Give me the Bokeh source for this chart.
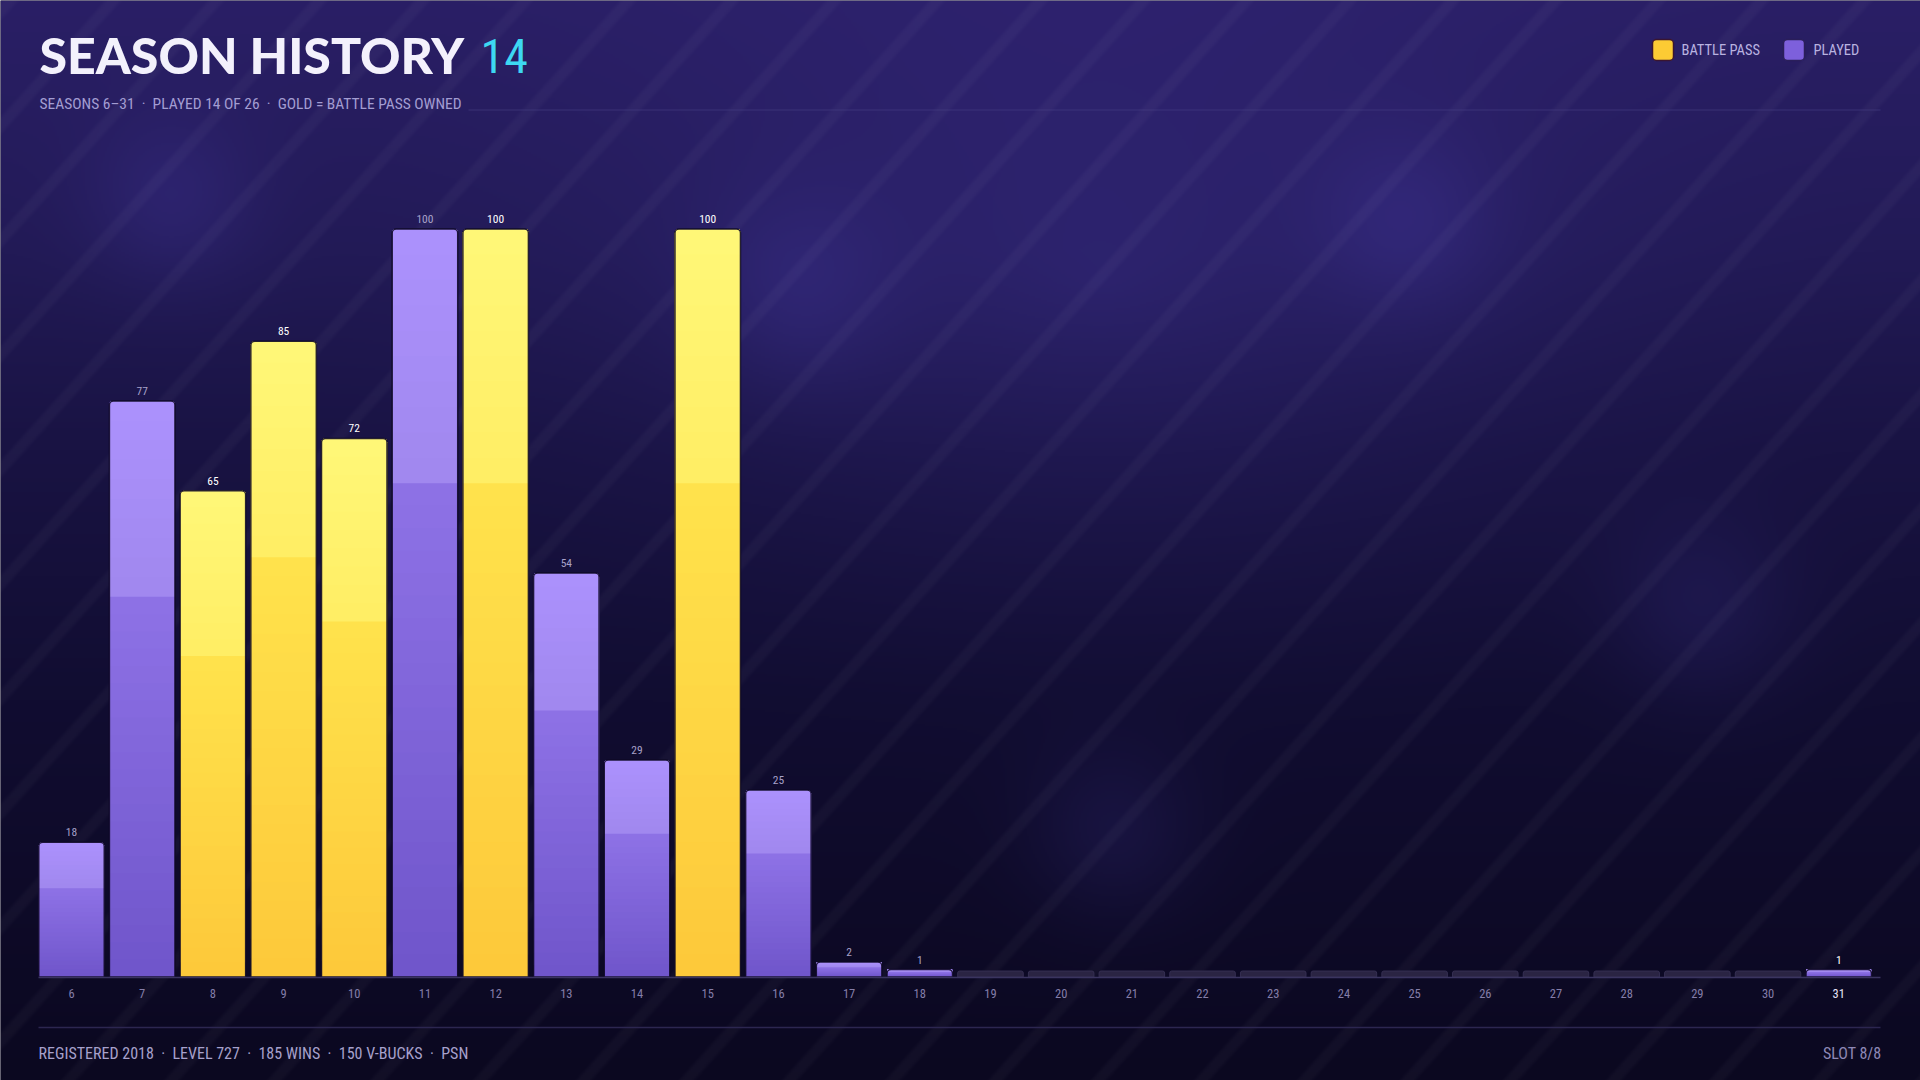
import numpy as np
from bokeh.plotting import figure
from bokeh.models import Range1d, ColumnDataSource
from bokeh.core.properties import value
from bokeh.embed import file_html
from bokeh.resources import INLINE

# ---------------- data ----------------
seasons = list(range(6, 32))
season_labels = [str(s) for s in seasons]
levels = [18, 77, 65, 85, 72, 100, 100, 54, 29, 100, 25, 2, 1,
          0, 0, 0, 0, 0, 0, 0, 0, 0, 0, 0, 0, 1]
battle_pass = [0, 0, 1, 1, 1, 0, 1, 0, 0, 1, 0, 0, 0,
               0, 0, 0, 0, 0, 0, 0, 0, 0, 0, 0, 0, 0]
played = [1, 1, 1, 1, 1, 1, 1, 1, 1, 1, 1, 1, 1,
          0, 0, 0, 0, 0, 0, 0, 0, 0, 0, 0, 0, 1]
current_season = 31

SP = "\u00a0"
title_text = "SEASON HISTORY"
title_count = "14"
subtitle_text = f"SEASONS 6–31 {SP}·{SP} PLAYED 14 OF 26 {SP}·{SP} GOLD = BATTLE PASS OWNED"
footer_text = f"REGISTERED 2018 {SP}·{SP} LEVEL 727 {SP}·{SP} 185 WINS {SP}·{SP} 150 V-BUCKS {SP}·{SP} PSN"
slot_text = "SLOT 8/8"
legend_labels = ["BATTLE PASS", "PLAYED"]

# ---------------- layout / style ----------------
W, H = 1920, 1080
X0, PITCH = 71.0, 70.69          # canvas x of first bar centre, bar pitch (px)
BASE, PXU = 976.5, 7.48          # canvas y of baseline, px per level unit
BAR_W = 0.927
STUB = 0.8

NARROW = value("Roboto Condensed, Liberation Sans Narrow, Roboto, sans-serif")
HEAVY = value("Lato Black, Lato, sans-serif")

GOLD = dict(bottom=(0xfd, 0xc8, 0x3a), lo=(0xff, 0xe3, 0x4c), hi=(0xff, 0xee, 0x64), top=(0xff, 0xf7, 0x78))
PURP = dict(bottom=(0x6f, 0x55, 0xca), lo=(0x8e, 0x72, 0xe6), hi=(0xa0, 0x88, 0xee), top=(0xac, 0x91, 0xfd))

xr = Range1d(6 - X0 / PITCH, 6 + (W - X0) / PITCH)
yr = Range1d(-(H - BASE) / PXU, BASE / PXU)

p = figure(width=W, height=H, output_backend="svg", toolbar_location=None,
           x_range=xr, y_range=yr, x_axis_location=None, y_axis_location=None,
           min_border=0, background_fill_color="#0c0920", border_fill_color="#0c0920",
           outline_line_color=None)
p.title.visible = False
p.grid.visible = False
p.extra_x_ranges = {"px": Range1d(0, W)}
p.extra_y_ranges = {"py": Range1d(H, 0)}

# ---------------- background ----------------
hh, ww = H // 2, W // 2
gy, gx = np.mgrid[0:hh, 0:ww].astype(float)
RX = gx * 2 + 1
RY = gy * 2 + 1
stop_y = [0, 250, 450, 700, 1080]
stop_c = np.array([[0x2a, 0x1f, 0x66], [0x22, 0x1a, 0x56], [0x19, 0x13, 0x43],
                   [0x11, 0x0d, 0x31], [0x0b, 0x08, 0x20]], float)
rgb = np.stack([np.interp(RY, stop_y, stop_c[:, c]) for c in range(3)], axis=-1)
glow = np.clip(1 - np.hypot((RX - 1100) / 800, (RY - 280) / 520), 0, 1) ** 1.6
rgb += glow[..., None] * np.array([12, 10, 26])
for bx, by, br in [(171, 202, 60), (796, 294, 70), (1408, 227, 65), (1702, 612, 65), (1114, 833, 60)]:
    g = np.exp(-((RX - bx) ** 2 + (RY - by) ** 2) / (2 * br ** 2))
    rgb += g[..., None] * np.array([9, 8, 20])
ph = np.mod(RX + 0.9 * RY, 103.0)
stripe = np.clip((10 - np.abs(ph - 10)) / 5, 0, 1)
rgb += stripe[..., None] * (255 - rgb) * 0.03
img = np.zeros((hh, ww), dtype=np.uint32)
view = img.view(dtype=np.uint8).reshape((hh, ww, 4))
view[..., :3] = np.clip(rgb, 0, 255).astype(np.uint8)
view[..., 3] = 255
img = np.ascontiguousarray(np.flipud(img))
p.image_rgba(image=[img], x=xr.start, y=yr.start, dw=xr.end - xr.start, dh=yr.end - yr.start)

# ---------------- bars ----------------
def mix(a, b, t):
    return "#%02x%02x%02x" % tuple(int(round(a[i] + (b[i] - a[i]) * t)) for i in range(3))

bands = dict(left=[], right=[], bottom=[], top=[], color=[])
N_LO, N_HI = 22, 10
for s, v, bp, pl in zip(seasons, levels, battle_pass, played):
    if not pl or v <= 0:
        continue
    pal = GOLD if bp else PURP
    for k in range(N_LO):
        bands["left"].append(s - BAR_W / 2); bands["right"].append(s + BAR_W / 2)
        bands["bottom"].append(v * 0.66 * k / N_LO); bands["top"].append(v)
        bands["color"].append(mix(pal["bottom"], pal["lo"], (k + 0.5) / N_LO))
    for k in range(N_HI):
        bands["left"].append(s - BAR_W / 2); bands["right"].append(s + BAR_W / 2)
        bands["bottom"].append(v * (0.66 + 0.34 * k / N_HI)); bands["top"].append(v)
        bands["color"].append(mix(pal["hi"], pal["top"], (k + 0.5) / N_HI))
p.quad(left="left", right="right", bottom="bottom", top="top", fill_color="color",
       line_color=None, source=ColumnDataSource(bands), border_radius=(4, 4, 0, 0))

bar_src = ColumnDataSource(dict(
    x=[s for s, pl, v in zip(seasons, played, levels) if pl and v > 0],
    top=[v for pl, v in zip(played, levels) if pl and v > 0]))
p.vbar(x="x", top="top", bottom=0, width=BAR_W, source=bar_src, fill_color=None,
       line_color="#0e0926", line_width=1.5, line_alpha=0.9, border_radius=(4, 4, 0, 0))

stub_src = ColumnDataSource(dict(x=[s for s, pl in zip(seasons, played) if not pl]))
p.vbar(x="x", top=STUB, bottom=0, width=BAR_W, source=stub_src, fill_color="#2a2443",
       line_color="#352f52", line_width=1, border_radius=(2, 2, 0, 0))

# baseline
p.segment(x0=[38], x1=[1880], y0=[BASE + 0.5], y1=[BASE + 0.5], x_range_name="px", y_range_name="py",
          line_color="#3a3460", line_width=1.5)

# value labels
lab = dict(x=[], y=[], text=[], color=[])
for s, v, bp, pl in zip(seasons, levels, battle_pass, played):
    if not pl:
        continue
    lab["x"].append(s); lab["y"].append(v + 6.0 / PXU); lab["text"].append(str(v))
    lab["color"].append("#ffffff" if (bp or s == current_season) else "#a7a1c9")
p.text(x="x", y="y", text="text", text_color="color", source=ColumnDataSource(lab),
       text_font=NARROW, text_font_size="11.5px", text_align="center", text_baseline="bottom")

# tick labels
tick = dict(x=seasons, y=[-16.0 / PXU] * len(seasons), text=season_labels,
            color=["#e4e1f6" if s == current_season else "#847ea9" for s in seasons])
p.text(x="x", y="y", text="text", text_color="color", source=ColumnDataSource(tick),
       text_font=NARROW, text_font_size="12.5px", text_align="center", text_baseline="middle")

# ---------------- header ----------------
def ptext(x, y, t, size, color, font=NARROW, align="left", baseline="middle", style="normal"):
    p.text(x=[x], y=[y], text=[t], x_range_name="px", y_range_name="py", text_font=font,
           text_font_size=size, text_color=color, text_align=align, text_baseline=baseline,
           text_font_style=style)

ptext(39, 54.5, title_text, "50px", "#f3f1fc", font=HEAVY, style="bold")
ptext(480, 55, title_count, "48px", "#3dd8f2")
ptext(39, 103, subtitle_text, "15.5px", "#a39dd2")
p.segment(x0=[468], x1=[1880], y0=[109.5], y1=[109.5], x_range_name="px", y_range_name="py",
          line_color="#4a4288", line_alpha=0.55, line_width=1)

# legend
p.quad(left=[1652, 1783], right=[1673, 1804], top=[39, 39], bottom=[60, 60],
       x_range_name="px", y_range_name="py", fill_color=["#fccb34", "#7d60dc"],
       line_color=["#3a1530", "#2a1f5a"], line_width=1.5, border_radius=4)
ptext(1681, 50, legend_labels[0], "14.5px", "#b9b3e0")
ptext(1813, 50, legend_labels[1], "14.5px", "#b9b3e0")

# ---------------- footer ----------------
p.segment(x0=[38], x1=[1880], y0=[1027], y1=[1027], x_range_name="px", y_range_name="py",
          line_color="#2c2650", line_width=1.5)
ptext(38, 1053, footer_text, "16px", "#a7a1cc")
ptext(1881, 1053, slot_text, "16px", "#8e88b6", align="right")

html = file_html(p, INLINE)
html = html.replace("<body>", '<body style="background:#0b0820; overflow:hidden;">', 1)
open("out.html", "w").write(html)
